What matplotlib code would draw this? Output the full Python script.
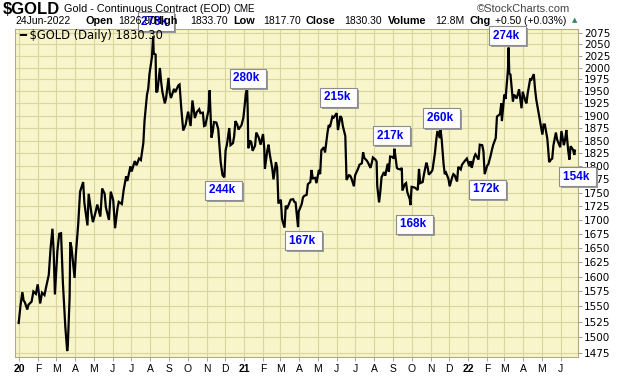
import matplotlib
matplotlib.use("Agg")
import matplotlib.pyplot as plt
import matplotlib.dates as mdates
import matplotlib.transforms as mtransforms
import matplotlib.ticker as mticker
import pandas as pd
import numpy as np

# ---------------- data ----------------
dates_2020 = ["2019-12-31","2020-01-03","2020-01-06","2020-01-08","2020-01-10","2020-01-14","2020-01-16","2020-01-21",
    "2020-01-24","2020-01-28","2020-01-31","2020-02-04","2020-02-07","2020-02-11","2020-02-14","2020-02-18","2020-02-21",
    "2020-02-24","2020-02-26","2020-02-28","2020-03-03","2020-03-06","2020-03-09","2020-03-12","2020-03-16","2020-03-19",
    "2020-03-20","2020-03-23","2020-03-24","2020-03-26","2020-03-31","2020-04-02","2020-04-06","2020-04-09","2020-04-14",
    "2020-04-16","2020-04-21","2020-04-23","2020-04-28","2020-04-30","2020-05-04","2020-05-07","2020-05-12","2020-05-15",
    "2020-05-19","2020-05-21","2020-05-26","2020-05-29","2020-06-02","2020-06-05","2020-06-09","2020-06-11","2020-06-16",
    "2020-06-19","2020-06-23","2020-06-25","2020-06-30","2020-07-02","2020-07-07","2020-07-10","2020-07-14","2020-07-17",
    "2020-07-21","2020-07-23","2020-07-27","2020-07-29","2020-07-31","2020-08-04","2020-08-06","2020-08-07","2020-08-10",
    "2020-08-11","2020-08-13","2020-08-17","2020-08-19","2020-08-21","2020-08-25","2020-08-27","2020-08-31","2020-09-02",
    "2020-09-04","2020-09-09","2020-09-11","2020-09-16","2020-09-18","2020-09-21","2020-09-24","2020-09-28","2020-09-30",
    "2020-10-02","2020-10-06","2020-10-09","2020-10-13","2020-10-16","2020-10-20","2020-10-22","2020-10-26","2020-10-28",
    "2020-10-30","2020-11-04","2020-11-06","2020-11-09","2020-11-11","2020-11-13","2020-11-17","2020-11-20","2020-11-24",
    "2020-11-27","2020-11-30","2020-12-02","2020-12-04","2020-12-08","2020-12-10","2020-12-14","2020-12-16","2020-12-18",
    "2020-12-21","2020-12-23","2020-12-28","2020-12-31"]
close_2020 = [1523,1552,1574,1560,1557,1545,1553,1558,
    1575,1571,1587,1555,1573,1569,1584,1603,1650,
    1684,1643,1570,1644,1675,1676,1590,1516,1478,
    1486,1567,1660,1651,1598,1637,1693,1752,1770,
    1731,1690,1748,1708,1696,1713,1728,1706,1758,
    1748,1723,1700,1752,1736,1685,1722,1733,1729,
    1755,1781,1772,1800,1790,1810,1802,1815,1812,
    1845,1890,1943,1955,1986,2022,2067,2030,2028,
    1948,1950,1999,1970,1949,1925,1935,1978,1947,
    1936,1955,1948,1962,1964,1912,1870,1882,1896,
    1908,1879,1931,1895,1907,1913,1905,1906,1879,
    1880,1910,1952,1856,1867,1887,1886,1873,1808,
    1783,1779,1831,1841,1875,1841,1845,1859,1889,
    1882,1872,1881,1896]

dates_2021 = ["2021-01-04","2021-01-06","2021-01-07","2021-01-08","2021-01-11","2021-01-13","2021-01-15","2021-01-19",
    "2021-01-21","2021-01-25","2021-01-28","2021-02-01","2021-02-03","2021-02-04","2021-02-08","2021-02-10","2021-02-12",
    "2021-02-16","2021-02-18","2021-02-22","2021-02-24","2021-02-26","2021-03-02","2021-03-04","2021-03-08","2021-03-10",
    "2021-03-12","2021-03-16","2021-03-18","2021-03-22","2021-03-24","2021-03-26","2021-03-30","2021-03-31","2021-04-05",
    "2021-04-07","2021-04-09","2021-04-13","2021-04-15","2021-04-19","2021-04-21","2021-04-23","2021-04-27","2021-04-29",
    "2021-05-03","2021-05-05","2021-05-07","2021-05-11","2021-05-13","2021-05-17","2021-05-19","2021-05-21","2021-05-25",
    "2021-05-27","2021-06-01","2021-06-03","2021-06-07","2021-06-09","2021-06-11","2021-06-15","2021-06-16","2021-06-17",
    "2021-06-21","2021-06-23","2021-06-25","2021-06-29","2021-07-01","2021-07-06","2021-07-08","2021-07-12","2021-07-14",
    "2021-07-16","2021-07-20","2021-07-22","2021-07-26","2021-07-28","2021-07-30","2021-08-03","2021-08-05","2021-08-06",
    "2021-08-09","2021-08-11","2021-08-13","2021-08-17","2021-08-19","2021-08-23","2021-08-25","2021-08-27","2021-08-31",
    "2021-09-02","2021-09-03","2021-09-07","2021-09-09","2021-09-13","2021-09-15","2021-09-16","2021-09-20","2021-09-22",
    "2021-09-24","2021-09-28","2021-09-29","2021-10-01","2021-10-05","2021-10-07","2021-10-11","2021-10-13","2021-10-15",
    "2021-10-19","2021-10-21","2021-10-25","2021-10-27","2021-10-29","2021-11-02","2021-11-04","2021-11-08","2021-11-10",
    "2021-11-12","2021-11-16","2021-11-17","2021-11-19","2021-11-22","2021-11-24","2021-11-26","2021-11-30","2021-12-02",
    "2021-12-06","2021-12-08","2021-12-10","2021-12-14","2021-12-16","2021-12-20","2021-12-22","2021-12-27","2021-12-30"]
close_2021 = [1944,1958,1913,1835,1850,1846,1830,1840,
    1866,1856,1842,1863,1835,1795,1831,1842,1823,
    1796,1775,1808,1797,1730,1737,1701,1686,1726,
    1720,1731,1737,1738,1733,1732,1687,1715,1729,
    1741,1744,1746,1766,1770,1793,1777,1778,1768,
    1793,1785,1831,1837,1827,1866,1881,1877,1898,
    1896,1905,1871,1899,1895,1879,1859,1812,1774,
    1783,1782,1777,1762,1783,1796,1803,1806,1827,
    1816,1811,1807,1797,1806,1817,1813,1809,1763,
    1732,1752,1779,1789,1782,1805,1790,1819,1818,
    1815,1834,1797,1795,1794,1797,1754,1766,1768,
    1751,1738,1727,1761,1760,1759,1755,1795,1768,
    1770,1784,1807,1799,1784,1789,1793,1826,1850,
    1869,1855,1873,1852,1805,1785,1788,1776,1762,
    1779,1785,1783,1771,1799,1794,1803,1811,1815]

dates_2022 = ["2022-01-03","2022-01-05","2022-01-07","2022-01-11","2022-01-13","2022-01-18","2022-01-20","2022-01-24",
    "2022-01-26","2022-01-28","2022-02-01","2022-02-03","2022-02-07","2022-02-09","2022-02-11","2022-02-15","2022-02-17",
    "2022-02-22","2022-02-24","2022-02-25","2022-03-01","2022-03-03","2022-03-07","2022-03-08","2022-03-09","2022-03-11",
    "2022-03-15","2022-03-17","2022-03-21","2022-03-23","2022-03-25","2022-03-29","2022-03-31","2022-04-04","2022-04-06",
    "2022-04-08","2022-04-12","2022-04-14","2022-04-18","2022-04-20","2022-04-22","2022-04-26","2022-04-28","2022-05-02",
    "2022-05-04","2022-05-06","2022-05-10","2022-05-12","2022-05-13","2022-05-16","2022-05-18","2022-05-20","2022-05-24",
    "2022-05-26","2022-05-31","2022-06-02","2022-06-06","2022-06-08","2022-06-10","2022-06-13","2022-06-15","2022-06-17",
    "2022-06-21","2022-06-23","2022-06-24"]
close_2022 = [1800,1810,1797,1818,1823,1813,1842,1841,
    1829,1785,1801,1804,1822,1833,1842,1855,1898,
    1903,1925,1889,1943,1934,1997,2043,1988,1985,
    1929,1943,1935,1944,1954,1915,1949,1931,1925,
    1945,1975,1974,1986,1955,1933,1904,1890,1862,
    1882,1882,1854,1825,1808,1813,1815,1841,1866,
    1852,1837,1869,1841,1852,1871,1831,1813,1839,
    1832,1822,1830.3]

label_dates = ["2020-08-06","2020-11-30","2021-01-06","2021-03-08","2021-06-01","2021-09-03",
               "2021-09-29","2021-11-17","2022-01-28","2022-03-08","2022-06-15"]
label_texts = ["273k","244k","280k","167k","215k","217k","168k","260k","172k","274k","154k"]
# offsets of the label box centres from the annotated close, in pixels (right, up)
label_offsets = [(3, 15), (-1, -13), (1, 9), (19, -13), (2, 16), (-3, 13),
                 (4, -19), (1, 11), (3, -15), (-1, 12), (8, -17)]

y_ticks = list(range(1475, 2076, 25))

# ---------------- figure ----------------
W, H = 620, 376
fig = plt.figure(figsize=(W / 100, H / 100), dpi=100)
L, R, T, B = 15, 578, 29, 357
ax = fig.add_axes([L / W, 1 - B / H, (R - L) / W, (B - T) / H])

bg = "#F7F5C9"
grid_c = "#D8D5A2"
ax.set_facecolor(bg)

dts = pd.to_datetime(dates_2020 + dates_2021 + dates_2022)
xnum = mdates.date2num(dts)
vals = np.array(close_2020 + close_2021 + close_2022, dtype=float)
ax.plot(xnum, vals, color="black", lw=1.6, solid_joinstyle="miter", zorder=3)
ax.xaxis_date()

ax.set_yscale("log")
ax.set_xlim(mdates.date2num(pd.Timestamp("2019-12-25")), mdates.date2num(pd.Timestamp("2022-06-29")))
ax.set_ylim(1468.7, 2083.9)

# ticks / grid
months = pd.date_range("2020-01-01", "2022-06-01", freq="MS")
ax.set_xticks(mdates.date2num(months))
mlabels = []
for m in months:
    if m.month == 1:
        mlabels.append(str(m.year)[2:])
    else:
        mlabels.append(m.strftime("%b")[0])
ax.set_xticklabels(mlabels, fontsize=7.5, family="Liberation Sans")
for lab, m in zip(ax.get_xticklabels(), months):
    if m.month == 1:
        lab.set_fontweight("bold")
ax.yaxis.set_major_locator(mticker.FixedLocator(y_ticks))
ax.yaxis.set_minor_locator(mticker.NullLocator())
ax.yaxis.set_major_formatter(mticker.FixedFormatter([str(v) for v in y_ticks]))
for lab in ax.get_yticklabels():
    lab.set_fontsize(7.5)
    lab.set_family("Liberation Sans")
ax.yaxis.tick_right()
ax.tick_params(axis="y", which="major", length=3, width=0.6, color="#888888", pad=1.5, direction="out",
               labelsize=7.5)
ax.tick_params(axis="x", length=3, width=0.6, color="#999999", pad=2, direction="out")
ax.grid(True, which="major", color=grid_c, lw=0.8, zorder=0)
ax.set_axisbelow(True)
for s in ax.spines.values():
    s.set_color("#B0AE80")
    s.set_linewidth(0.8)

# legend text
fig.text(19 / W, 1 - 36 / H, "\u2501 $GOLD (Daily) 1830.30", fontsize=8.3, family="DejaVu Sans",
         va="center", ha="left", color="black")

# header
fig.text(3 / W, 1 - 9 / H, "$GOLD", fontsize=12, fontweight="bold", family="Liberation Sans",
         va="center", ha="left")
fig.text(64 / W, 1 - 9 / H, "Gold - Continuous Contract (EOD)", fontsize=7.8, family="Liberation Sans",
         va="center", ha="left")
fig.text(233 / W, 1 - 9.5 / H, "CME", fontsize=7, family="Liberation Sans", va="center", ha="left")
fig.text(570 / W, 1 - 9.5 / H, "\u00a9StockCharts.com", fontsize=8, family="Liberation Sans",
         va="center", ha="right", color="#444444")

row2 = [("24Jun-2022", False, 15), ("Open", True, 86), ("1826.90", False, 118), ("High", True, 153),
        ("1833.70", False, 190), ("Low", True, 233), ("1817.70", False, 263), ("Close", True, 306),
        ("1830.30", False, 344), ("Volume", True, 388), ("12.8M", False, 435), ("Chg", True, 470),
        ("+0.50 (+0.03%)", False, 495)]
for txt, bold, xp in row2:
    fig.text(xp / W, 1 - 20.5 / H, txt, fontsize=7.8 if bold else 7.5, family="Liberation Sans",
             fontweight="bold" if bold else "normal", va="center", ha="left")
fig.text(572 / W, 1 - 20 / H, "\u25B2", fontsize=5, color="#2E8B57", va="center", ha="left",
         family="DejaVu Sans")

# volume labels
shadow = mtransforms.offset_copy(ax.transData, fig=fig, x=2, y=-2, units="dots")
for d, txt, (dx, dy) in zip(label_dates, label_texts, label_offsets):
    dt = pd.Timestamp(d)
    i = int(np.argmin(np.abs((dts - dt).days)))
    xy = (xnum[i], vals[i])
    for tr, fc, ec, tc, z in [(shadow, "#9A9A9A", "none", "none", 5),
                              (ax.transData, "white", "#8C8C8C", "#0000EE", 6)]:
        ax.annotate(txt + " ", xy=xy, xycoords=tr, xytext=(dx, dy), textcoords="offset pixels",
                    ha="center", va="center", fontsize=8.5, fontweight="bold", family="Liberation Sans",
                    color=tc, zorder=z, annotation_clip=False,
                    bbox=dict(boxstyle="square,pad=0.3", fc=fc, ec=ec, lw=0.8))

fig.savefig("out.png", dpi=100, facecolor="white")
